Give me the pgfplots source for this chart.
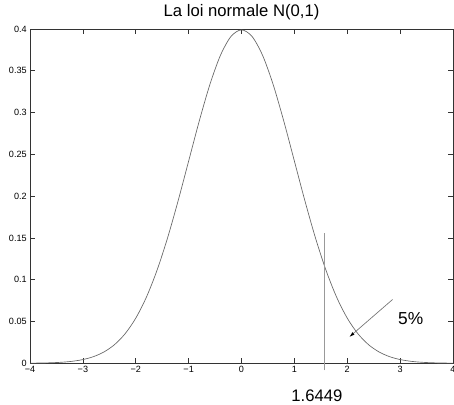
\documentclass[border=0pt]{standalone}
\usepackage{pgfplots}
\pgfplotsset{compat=1.18}
\usetikzlibrary{arrows.meta}
\usepackage{fontspec}
\setmainfont{Liberation Sans}
\begin{document}
\begin{tikzpicture}
\begin{axis}[
  name=ax,
  scale only axis,
  width=317pt, height=250.5pt,
  xmin=-4, xmax=4, ymin=0, ymax=0.4,
  axis line style={black!80, line width=0.6pt},
  tick style={black!80, line width=0.5pt},
  tick align=inside,
  major tick length=4pt,
  xtick={-4,-3,...,4},
  xticklabels={−4,−3,−2,−1,0,1,2,3,4},
  ytick={0,0.05,...,0.4},
  yticklabels={0,0.05,0.1,0.15,0.2,0.25,0.3,0.35,0.4},
  tick label style={font=\fontsize{6.8}{8}\selectfont},
  xticklabel style={yshift=1pt},
  yticklabel style={xshift=1pt},
  title={La loi normale N(0,1)},
  title style={font=\fontsize{12.5}{14}\selectfont, yshift=-3pt},
  clip=false,
]
\addplot[black!60, line width=0.5pt, smooth] coordinates {
(-4.0,0.00013) (-3.8,0.00029) (-3.6,0.00061) (-3.4,0.00123) (-3.2,0.00238)
(-3.0,0.00443) (-2.8,0.00792) (-2.6,0.01358) (-2.4,0.02239) (-2.2,0.03547)
(-2.0,0.05399) (-1.8,0.07895) (-1.6,0.11092) (-1.4,0.14973) (-1.2,0.19419)
(-1.0,0.24197) (-0.8,0.28969) (-0.6,0.33322) (-0.4,0.36827) (-0.2,0.39104)
(0.0,0.39894) (0.2,0.39104) (0.4,0.36827) (0.6,0.33322) (0.8,0.28969)
(1.0,0.24197) (1.2,0.19419) (1.4,0.14973) (1.6,0.11092) (1.8,0.07895)
(2.0,0.05399) (2.2,0.03547) (2.4,0.02239) (2.6,0.01358) (2.8,0.00792)
(3.0,0.00443) (3.2,0.00238) (3.4,0.00123) (3.6,0.00061) (3.8,0.00029)
(4.0,0.00013)
};
% vertical cut line
\addplot[black!40, line width=0.6pt] coordinates {(1.57,-0.0085) (1.57,0.156)};
% arrow
\addplot[black!55, line width=0.5pt, -{Latex[black,length=4pt,width=2.5pt]}] coordinates {(2.857,0.0763) (2.04,0.0315)};
\node[font=\fontsize{13}{15}\selectfont] at (axis cs:3.2,0.0535) {5\%};
\node[font=\fontsize{12.5}{14}\selectfont] at (axis cs:1.425,-0.0385) {1.6449};
\end{axis}
\pgfresetboundingbox
\path ([xshift=-22.5pt,yshift=-30.75pt]ax.south west) rectangle ([xshift=0.75pt,yshift=21.75pt]ax.north east);
\end{tikzpicture}
\end{document}
